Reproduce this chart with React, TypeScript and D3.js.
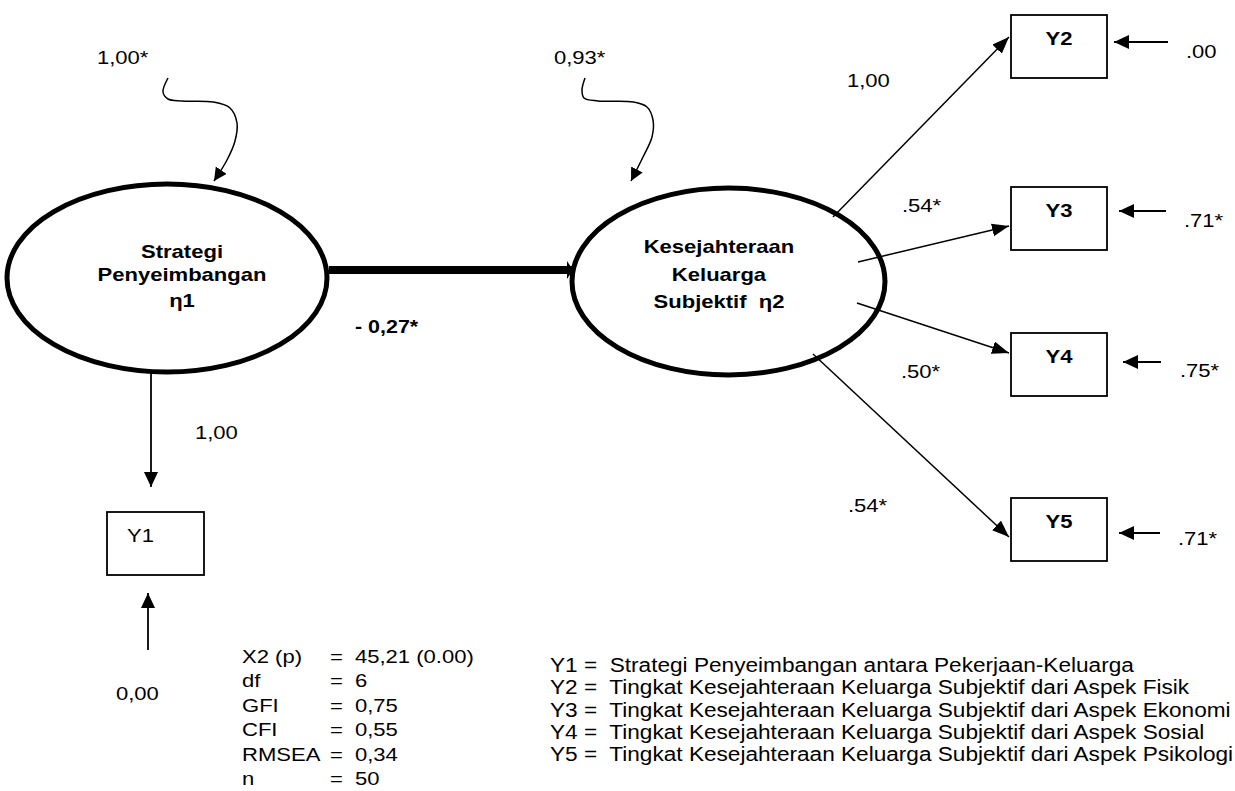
import React from "react";
import * as d3 from "d3";

// model values
const latentLines = [
  ["Strategi", "Penyeimbangan", "η1"],
  ["Kesejahteraan", "Keluarga", "Subjektif  η2"],
];
const disturbances = ["1,00*", "0,93*"];
const structuralPath = "- 0,27*";
const indicators = ["Y1", "Y2", "Y3", "Y4", "Y5"];
const loadings = ["1,00", "1,00", ".54*", ".50*", ".54*"];
const errorVars = ["0,00", ".00", ".71*", ".75*", ".71*"];
const fitLabels = ["X2 (p)", "df", "GFI", "CFI", "RMSEA", "n"];
const fitValues = ["45,21 (0.00)", "6", "0,75", "0,55", "0,34", "50"];
const legendText = [
  "Strategi Penyeimbangan antara Pekerjaan-Keluarga",
  "Tingkat Kesejahteraan Keluarga Subjektif dari Aspek Fisik",
  "Tingkat Kesejahteraan Keluarga Subjektif dari Aspek Ekonomi",
  "Tingkat Kesejahteraan Keluarga Subjektif dari Aspek Sosial",
  "Tingkat Kesejahteraan Keluarga Subjektif dari Aspek Psikologi",
];

const W = 1235;
const H = 791;
const SX = 1.16; // the original is stretched a bit sideways
const FONT = "'Liberation Sans', Arial, Helvetica, sans-serif";

// layout
const ellipses = [
  { cx: 167, cy: 278, rx: 160, ry: 94, tx: 182, ty: [258, 281, 307] },
  { cx: 728.5, cy: 281.5, rx: 156.5, ry: 93.5, tx: 719, ty: [253, 281, 308] },
];
const squiggles: [number, number][][] = [
  [[168, 78], [163, 92], [168, 99], [182, 101], [213, 102], [230, 108], [237, 123], [235, 141], [227, 160], [214, 181]],
  [[585, 78], [582, 90], [584, 98], [598, 101], [633, 102], [647, 107], [653, 120], [652, 137], [643, 157], [631, 181]],
];
const distLabelPos = [[97, 64], [554, 64]];

// Y2..Y5 on the right
const boxX = 1011, boxW = 96, boxH = 63;
const boxTops = [15, 187, 333, 498];
const loadStart = [[833, 217], [858, 262], [857, 303], [813, 354]];
const loadTipY = [37, 226, 353, 537];
const loadLabelPos = [[847, 87], [902, 212], [901, 378], [848, 512]];
const errY = [42, 211, 362, 533];
const errFrom = [1168, 1166, 1161, 1160];
const errTo = [1114, 1119, 1123, 1119];
const errLabelPos = [[1186, 58], [1184, 227], [1180, 377], [1178, 545]];

export default function App() {
  const line = d3.line<[number, number]>().curve(d3.curveCatmullRom.alpha(0.5));
  const fitY = d3.scalePoint<string>().domain(fitLabels).range([663, 785]);
  const legY = d3.scalePoint<string>().domain(indicators).range([672, 761]);

  const txt = (x: number, y: number, s: string, opts: any = {}) => (
    <text
      key={`${s}-${x}-${y}`}
      transform={`translate(${x},${y}) scale(${opts.sx ?? SX},1)`}
      fontSize={opts.size ?? 19}
      fontWeight={opts.bold ? "bold" : "normal"}
      textAnchor={opts.anchor ?? "start"}
      style={{ whiteSpace: "pre" }}
    >
      {s}
    </text>
  );

  return (
    <svg
      width={W}
      height={H}
      style={{ position: "absolute", left: 0, top: 0, background: "#fff" }}
      fontFamily={FONT}
    >
      <defs>
        <marker id="ah" markerUnits="userSpaceOnUse" markerWidth={18} markerHeight={14} refX={17} refY={6.5} orient="auto">
          <path d="M0,0 L17,6.5 L0,13 z" fill="#000" />
        </marker>
        <marker id="ahE" markerUnits="userSpaceOnUse" markerWidth={16} markerHeight={15} refX={15} refY={7} orient="auto">
          <path d="M0,0 L15,7 L0,14 z" fill="#000" />
        </marker>
        <marker id="ahS" markerUnits="userSpaceOnUse" markerWidth={14} markerHeight={14} refX={13} refY={6.5} orient="auto">
          <path d="M0,0 L13,6.5 L0,13 z" fill="#000" />
        </marker>
        <marker id="ahT" markerUnits="userSpaceOnUse" markerWidth={8} markerHeight={20} refX={6} refY={9} orient="auto">
          <path d="M0,0 L6,9 L0,18 z" fill="#000" />
        </marker>
      </defs>

      {/* latent variables */}
      {ellipses.map((e, i) => (
        <g key={i}>
          <ellipse cx={e.cx} cy={e.cy} rx={e.rx} ry={e.ry} fill="none" stroke="#000" strokeWidth={5} />
          {latentLines[i].map((s, j) => txt(e.tx, e.ty[j], s, { bold: true, anchor: "middle" }))}
          <path d={line(squiggles[i]) ?? ""} fill="none" stroke="#000" strokeWidth={1.5} markerEnd="url(#ahS)" />
          {txt(distLabelPos[i][0], distLabelPos[i][1], disturbances[i])}
        </g>
      ))}

      {/* structural path */}
      <line x1={329} y1={270} x2={573} y2={270} stroke="#000" strokeWidth={8} markerEnd="url(#ahT)" />
      {txt(355, 333, structuralPath, { bold: true, size: 18.5 })}

      {/* Y1 */}
      <rect x={107} y={512} width={97} height={63} fill="none" stroke="#000" strokeWidth={1.8} />
      {txt(127, 542, indicators[0])}
      <line x1={151} y1={372} x2={151} y2={487} stroke="#000" strokeWidth={1.8} markerEnd="url(#ahE)" />
      {txt(195, 439, loadings[0])}
      <line x1={148} y1={650} x2={148} y2={593} stroke="#000" strokeWidth={1.8} markerEnd="url(#ahE)" />
      {txt(116, 700, errorVars[0])}

      {/* Y2..Y5 */}
      {boxTops.map((top, k) => {
        const i = k + 1;
        return (
          <g key={indicators[i]}>
            <rect x={boxX} y={top} width={boxW} height={boxH} fill="none" stroke="#000" strokeWidth={1.8} />
            {txt(boxX + boxW / 2, top + 30, indicators[i], { bold: true, anchor: "middle" })}
            <line
              x1={loadStart[k][0]} y1={loadStart[k][1]} x2={boxX - 2} y2={loadTipY[k]}
              stroke="#000" strokeWidth={1.5} markerEnd="url(#ah)"
            />
            {txt(loadLabelPos[k][0], loadLabelPos[k][1], loadings[i])}
            <line x1={errFrom[k]} y1={errY[k]} x2={errTo[k]} y2={errY[k]} stroke="#000" strokeWidth={2} markerEnd="url(#ahE)" />
            {txt(errLabelPos[k][0], errLabelPos[k][1], errorVars[i])}
          </g>
        );
      })}

      {/* fit statistics */}
      {fitLabels.map((f, i) => (
        <g key={f}>
          {txt(242, fitY(f)!, f)}
          {txt(330, fitY(f)!, "=")}
          {txt(355, fitY(f)!, fitValues[i])}
        </g>
      ))}

      {/* legend */}
      {indicators.map((id, i) => txt(550, legY(id)!, `${id} =  ${legendText[i]}`, { size: 19.5 }))}
    </svg>
  );
}
